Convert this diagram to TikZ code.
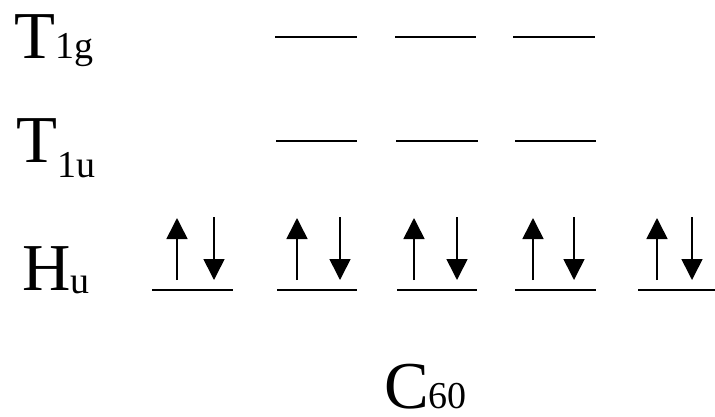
\documentclass[tikz,border=0pt]{standalone}
\usepackage{fontspec}
\setmainfont{Liberation Serif}
\usetikzlibrary{arrows.meta}
\tikzset{
  level/.style={line width=2pt},
  spin/.style={line width=1.6pt,-{Triangle[length=21pt,width=21pt]}},
  lbl/.style={anchor=base west,inner sep=0pt,font=\fontsize{67}{72}\selectfont},
}
\newcommand{\subtx}[2]{\raisebox{#1}{\fontsize{38}{40}\selectfont #2}}
\begin{document}
\begin{tikzpicture}[x=1pt,y=-1pt]
\useasboundingbox (0,0) rectangle (715,416);
% labels
\node[lbl] (t1g) at (14,58) {T\subtx{0pt}{1g}};
\node[lbl] (t1u) at (16,162) {T\subtx{-15pt}{1u}};
\node[lbl] (hu) at (22,290) {H\subtx{-3pt}{u}};
\node[lbl] (c60) at (384,408) {C\subtx{0pt}{60}};
% T1g levels
\foreach \a/\b in {275/357,395/476,513/595}
  \draw[level] (\a,37) -- (\b,37);
% T1u levels
\foreach \a/\b in {276/357,396/478,515/596}
  \draw[level] (\a,141) -- (\b,141);
% Hu levels with electron pairs
\foreach \a/\b/\u/\d in {152/233/177/214,277/357/297/340,397/477/414/457,515/596/533/574,638/719/657/692}{
  \draw[level] (\a,290) -- (\b,290);
  \coordinate (us) at (\u,280);
  \coordinate (ue) at (\u,218);
  \coordinate (ds) at (\d,217);
  \coordinate (de) at (\d,280);
  \draw[spin] (us) -- (ue);
  \draw[spin] (ds) -- (de);
}
\end{tikzpicture}
\end{document}
